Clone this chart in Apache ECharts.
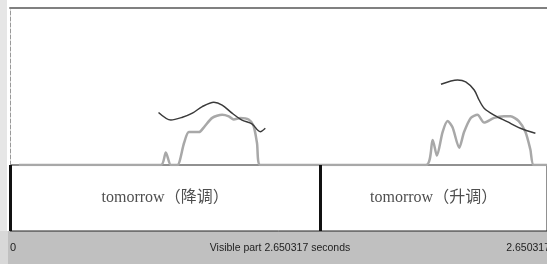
<!DOCTYPE html>
<html>
<head>
<meta charset="utf-8">
<script src="https://cdn.jsdelivr.net/npm/echarts@6/dist/echarts.min.js"></script>
<style>
    html, body { margin: 0; padding: 0; background: #fff; }
    #main { width: 547px; height: 264px; }
</style>
</head>
<body>
<div id="main"></div>
<script>
// 总时长（秒）
var duration = 2.650317;

// 音高曲线（Hz）- 两段
var pitchTimes1 = [0.733, 0.794, 0.851, 0.900, 0.949, 1.006, 1.047, 1.096, 1.145, 1.194, 1.235, 1.260];
var pitchHz1 = [167, 143, 152, 165, 186, 200, 191, 165, 143, 131, 106, 117];
var pitchTimes2 = [2.127, 2.209, 2.249, 2.291, 2.315, 2.340, 2.389, 2.454, 2.519, 2.593];
var pitchHz2 = [257, 271, 265, 239, 207, 181, 159, 138, 117, 101];

// 强度曲线（dB）
var intensityTimes = [0.044, 0.745, 0.769, 0.794, 0.826, 0.859, 0.883, 0.933, 0.957, 0.998, 1.047, 1.080, 1.104,
    1.137, 1.178, 1.202, 1.219, 1.235, 2.053, 2.086, 2.107, 2.135, 2.160, 2.184, 2.217, 2.241, 2.274, 2.307,
    2.340, 2.389, 2.438, 2.470, 2.511, 2.544, 2.568, 2.585, 2.650];
var intensityDb = [0, 0, 8, 0, 0, 14, 21, 21, 24, 30, 32, 31, 29,
    30, 29, 25, 14, 0, 0, 16, 6, 21, 28, 24, 11, 21, 30, 32,
    27, 30, 31, 31, 28, 21, 10, 0, 0];

// 标注层
var tierBounds = [0, 1.531, duration];
var tierLabels = ['tomorrow（降调）', 'tomorrow（升调）'];

var myChart = echarts.init(document.getElementById('main'));

function zip(xs, ys) {
    var out = [];
    for (var i = 0; i < xs.length; i++) out.push([xs[i], ys[i]]);
    return out;
}

var pitchData = zip(pitchTimes1, pitchHz1).concat([[1.5, null]]).concat(zip(pitchTimes2, pitchHz2));
var intensityData = zip(intensityTimes, intensityDb);

var labelData = [];
for (var i = 0; i < tierLabels.length; i++) {
    labelData.push({
        value: [(tierBounds[i] + tierBounds[i + 1]) / 2, 0.5],
        label: { formatter: tierLabels[i] }
    });
}

var option = {
    animation: false,
    backgroundColor: '#fff',
    grid: [
        { left: 10, top: 8, width: 540, height: 157 },
        { left: 10, top: 165, width: 540, height: 66, show: true, backgroundColor: '#fff', borderColor: '#222', borderWidth: 1 }
    ],
    xAxis: [
        {
            gridIndex: 0, type: 'value', min: 0, max: duration, position: 'top',
            axisLine: { show: true, onZero: false, lineStyle: { color: '#808080', width: 2 } },
            axisTick: { show: false }, axisLabel: { show: false }, splitLine: { show: false }
        },
        {
            gridIndex: 1, type: 'value', min: 0, max: duration,
            axisLine: { show: false }, axisTick: { show: false }, axisLabel: { show: false }, splitLine: { show: false }
        }
    ],
    yAxis: [
        {
            gridIndex: 0, type: 'value', min: 0, max: 100,
            axisLine: { show: true, onZero: false, lineStyle: { color: '#999', type: 'dashed', width: 1 } },
            axisTick: { show: false }, axisLabel: { show: false }, splitLine: { show: false }
        },
        {
            gridIndex: 0, type: 'value', min: 0, max: 500, position: 'right',
            axisLine: { show: false }, axisTick: { show: false }, axisLabel: { show: false }, splitLine: { show: false }
        },
        {
            gridIndex: 1, type: 'value', min: 0, max: 1,
            axisLine: { show: false }, axisTick: { show: false }, axisLabel: { show: false }, splitLine: { show: false }
        }
    ],
    graphic: [
        { type: 'rect', left: 0, top: 0, shape: { width: 7, height: 264 }, style: { fill: '#e6e6e6' }, z: -1 },
        { type: 'rect', left: 0, top: 231, shape: { width: 547, height: 33 }, style: { fill: '#c0c0c0' }, z: -1 },
        { type: 'rect', left: 0, top: 231, shape: { width: 8, height: 33 }, style: { fill: '#d8d8d8' }, z: -1 },
        { type: 'text', left: 10, top: 242, style: { text: '0', fill: '#222', font: '11px "Liberation Sans", Arial, sans-serif' } },
        { type: 'text', x: 280, y: 248, style: { text: 'Visible part ' + duration + ' seconds', fill: '#222', align: 'center', verticalAlign: 'middle', font: '10.5px "Liberation Sans", Arial, sans-serif' } },
        { type: 'text', x: 550, y: 248, style: { text: String(duration), fill: '#222', align: 'right', verticalAlign: 'middle', font: '10.5px "Liberation Sans", Arial, sans-serif' } }
    ],
    series: [
        {
            name: '强度',
            type: 'line',
            xAxisIndex: 0, yAxisIndex: 0,
            data: intensityData,
            symbol: 'none',
            smooth: 0.25,
            lineStyle: { color: '#a8a8a8', width: 2.5 },
            z: 2
        },
        {
            name: '音高',
            type: 'line',
            xAxisIndex: 0, yAxisIndex: 1,
            data: pitchData,
            symbol: 'none',
            smooth: 0.3,
            connectNulls: false,
            lineStyle: { color: '#3a3a3a', width: 1.5 },
            z: 3
        },
        {
            name: '标注',
            type: 'scatter',
            xAxisIndex: 1, yAxisIndex: 2,
            data: labelData,
            symbolSize: 1,
            itemStyle: { color: 'rgba(0,0,0,0)' },
            label: {
                show: true, position: 'inside', color: '#222',
                fontSize: 16, fontFamily: '"Liberation Serif", "Noto Sans CJK SC", serif'
            },
            markLine: {
                silent: true,
                symbol: 'none',
                label: { show: false },
                lineStyle: { color: '#111', width: 3, type: 'solid' },
                data: tierBounds.slice(0, -1).map(function (t) { return { xAxis: t }; })
            }
        }
    ]
};
myChart.setOption(option);
</script>
</body>
</html>
